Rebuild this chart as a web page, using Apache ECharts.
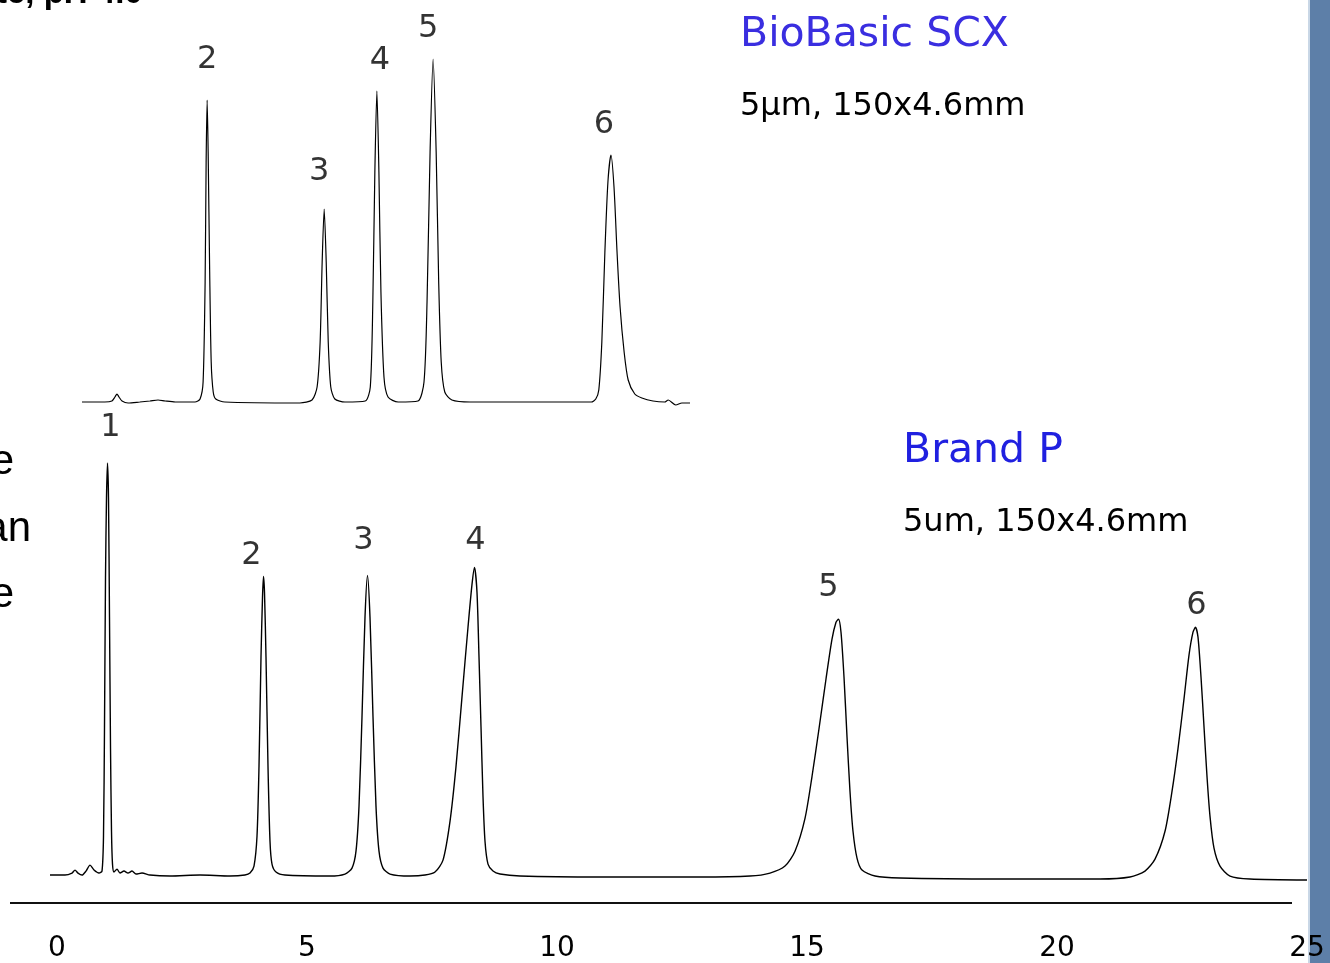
<!DOCTYPE html>
<html>
<head>
<meta charset="utf-8">
<title>BioBasic SCX vs Brand P</title>
<script src="https://cdn.jsdelivr.net/npm/echarts@6/dist/echarts.min.js"></script>
<style>
  html, body { margin: 0; padding: 0; background: #fff; }
  #chart { width: 1330px; height: 963px; }
</style>
</head>
<body>
<div id="chart"></div>
<script>
// time axis tick labels (min)
const timeTicks = [0, 5, 10, 15, 20, 25];

// BioBasic SCX trace (inset): [time, signal]
const scxTrace = [
  [0, 0], [0.45, 0], [0.59, 1], [0.65, 5], [0.69, 8], [0.73, 5], [0.79, 1], [0.91, -1],
  [1.14, 0], [1.34, 1], [1.5, 2], [1.64, 1], [1.84, 0], [2.23, 0], [2.33, 3], [2.39, 20],
  [2.43, 120], [2.45, 240], [2.47, 302], [2.49, 250], [2.52, 130], [2.55, 40], [2.59, 10],
  [2.64, 3], [2.82, 0], [4.3, -1], [4.54, 2], [4.64, 15], [4.7, 60], [4.74, 140], [4.78, 193],
  [4.82, 140], [4.86, 60], [4.91, 15], [4.99, 3], [5.19, 0], [5.59, 1], [5.69, 15], [5.74, 100],
  [5.78, 230], [5.82, 311], [5.86, 230], [5.9, 110], [5.96, 25], [6.04, 5], [6.24, 0], [6.63, 1],
  [6.75, 20], [6.81, 100], [6.87, 250], [6.93, 343], [6.99, 250], [7.04, 120], [7.09, 40],
  [7.16, 10], [7.3, 2], [7.66, 0], [10.05, 0], [10.14, 3], [10.2, 12], [10.26, 60], [10.32, 150],
  [10.38, 220], [10.44, 247], [10.5, 215], [10.56, 150], [10.62, 95], [10.7, 50], [10.78, 22],
  [10.91, 8], [11.05, 4], [11.27, 1], [11.5, 0], [11.57, 2], [11.72, -3], [11.84, -1], [12, -1]
];
const scxPeakNames = ['2', '3', '4', '5', '6'];
const scxPeakTimes = [2.47, 4.78, 5.82, 6.93, 10.44];
const scxPeakHeights = [302, 193, 311, 343, 247];

// Brand P trace: [time, signal]
const brandPTrace = [
  [-0.14, 1], [0.16, 1], [0.3, 3], [0.36, 6], [0.42, 3], [0.5, 1], [0.58, 5], [0.66, 11],
  [0.74, 6], [0.84, 3], [0.9, 5], [0.93, 40], [0.95, 150], [0.97, 300], [0.99, 380], [1.01, 415],
  [1.03, 380], [1.05, 260], [1.07, 130], [1.09, 45], [1.11, 12], [1.14, 4], [1.2, 7], [1.26, 3],
  [1.34, 5], [1.42, 3], [1.5, 5], [1.58, 2], [1.7, 3], [1.86, 1], [2.26, 0], [2.86, 1], [3.46, 0],
  [3.76, 1], [3.86, 3], [3.94, 10], [4.0, 40], [4.04, 110], [4.08, 220], [4.11, 280], [4.13, 301],
  [4.15, 285], [4.18, 220], [4.22, 110], [4.26, 35], [4.3, 12], [4.38, 4], [4.56, 1], [5.46, 0],
  [5.76, 2], [5.9, 8], [5.98, 25], [6.04, 70], [6.1, 160], [6.16, 260], [6.21, 302], [6.26, 260],
  [6.32, 160], [6.38, 70], [6.44, 25], [6.52, 8], [6.66, 2], [7.06, 0], [7.36, 1], [7.56, 4],
  [7.72, 16], [7.86, 55], [7.98, 110], [8.1, 180], [8.22, 250], [8.3, 293], [8.35, 310],
  [8.4, 285], [8.44, 220], [8.48, 150], [8.52, 80], [8.56, 35], [8.62, 12], [8.72, 5], [8.86, 2],
  [9.26, 0], [10.86, -1], [12.86, -1], [13.86, 0], [14.26, 3], [14.56, 10], [14.76, 25],
  [14.96, 58], [15.1, 100], [15.24, 148], [15.38, 198], [15.5, 238], [15.58, 255], [15.63, 258],
  [15.68, 245], [15.74, 200], [15.8, 140], [15.86, 85], [15.92, 45], [16.0, 18], [16.1, 6],
  [16.36, 0], [16.86, -2], [18.86, -3], [20.86, -3], [21.46, -1], [21.76, 5], [21.96, 17],
  [22.16, 45], [22.3, 85], [22.42, 128], [22.54, 178], [22.64, 222], [22.72, 245], [22.77, 250],
  [22.82, 240], [22.88, 200], [22.94, 150], [23.0, 100], [23.06, 60], [23.14, 28], [23.26, 10],
  [23.46, 0], [23.86, -3], [25, -4]
];
const brandPPeakNames = ['1', '2', '3', '4', '5', '6'];
const brandPPeakTimes = [1.01, 4.13, 6.21, 8.35, 15.63, 22.77];
const brandPPeakHeights = [415, 301, 302, 310, 258, 250];

// label nudges (px) for the peak numbers
const scxLabelOffsets = [[0, -40], [-5, -37], [3, -30], [-5, -30], [-7, -30]];
const brandPLabelOffsets = [[3, -35], [-12, -21], [-4, -35], [1, -27], [-10, -32], [1, -22]];

const FONT = 'DejaVu Sans';

function peakLabels(names, times, heights, offsets, gridIdx) {
  return {
    type: 'scatter',
    xAxisIndex: gridIdx,
    yAxisIndex: gridIdx,
    symbolSize: 0,
    silent: true,
    data: names.map((n, i) => ({
      value: [times[i], heights[i]],
      name: n,
      label: { offset: offsets[i] }
    })),
    label: {
      show: true,
      position: 'inside',
      formatter: p => p.name,
      color: '#000',
      fontFamily: FONT,
      fontSize: 32
    }
  };
}

const chart = echarts.init(document.getElementById('chart'), null, { renderer: 'canvas' });

chart.setOption({
  animation: false,
  backgroundColor: '#fff',
  grid: [
    { left: 82, width: 608, top: 59, height: 349 },
    { left: 47, width: 1260, top: 463, height: 425 }
  ],
  xAxis: [
    { gridIndex: 0, type: 'value', min: 0, max: 12, show: false },
    {
      gridIndex: 1, type: 'value', min: -0.2, max: 25,
      axisLine: { show: false }, axisTick: { show: false }, splitLine: { show: false },
      axisLabel: {
        customValues: timeTicks,
        margin: 49,
        color: '#000',
        fontFamily: FONT,
        fontSize: 28
      }
    }
  ],
  yAxis: [
    { gridIndex: 0, type: 'value', min: -6, max: 343, show: false },
    { gridIndex: 1, type: 'value', min: -10, max: 415, show: false }
  ],
  series: [
    {
      type: 'line', xAxisIndex: 0, yAxisIndex: 0, data: scxTrace,
      showSymbol: false, silent: true, smooth: 0.25,
      lineStyle: { color: '#000', width: 1.2 }
    },
    {
      type: 'line', xAxisIndex: 1, yAxisIndex: 1, data: brandPTrace,
      showSymbol: false, silent: true, smooth: 0.25,
      lineStyle: { color: '#000', width: 1.4 }
    },
    peakLabels(scxPeakNames, scxPeakTimes, scxPeakHeights, scxLabelOffsets, 0),
    peakLabels(brandPPeakNames, brandPPeakTimes, brandPPeakHeights, brandPLabelOffsets, 1)
  ],
  graphic: [
    // slide side bar
    { type: 'rect', z: -100, shape: { x: 1310, y: 0, width: 20, height: 963 }, style: { fill: '#5d7fa8' } },
    { type: 'rect', z: -100, shape: { x: 1308, y: 0, width: 2, height: 963 }, style: { fill: '#c9d7e6' } },
    // time axis rule
    { type: 'line', shape: { x1: 10, y1: 903, x2: 1292, y2: 903 }, style: { stroke: '#111', lineWidth: 2 } },
    // column titles
    { type: 'text', x: 740, y: 35, style: { text: 'BioBasic SCX', fill: '#3a2ee0', font: '41px "DejaVu Sans"', verticalAlign: 'middle' } },
    { type: 'text', x: 740, y: 107, style: { text: '5µm, 150x4.6mm', fill: '#000', font: '32px "DejaVu Sans"', verticalAlign: 'middle' } },
    { type: 'text', x: 903, y: 451, style: { text: 'Brand P', fill: '#2020e0', font: '41px "DejaVu Sans"', verticalAlign: 'middle' } },
    { type: 'text', x: 903, y: 523, style: { text: '5um, 150x4.6mm', fill: '#000', font: '32px "DejaVu Sans"', verticalAlign: 'middle' } },
    // clipped slide text at the edges
    { type: 'text', x: -4, y: -6, style: { text: 'te, pH 4.0', fill: '#000', font: 'bold 33px "Liberation Sans"', verticalAlign: 'middle' } },
    { type: 'text', x: 14, y: 462, style: { text: 'e', fill: '#000', font: '42px "Liberation Sans"', align: 'right', verticalAlign: 'middle' } },
    { type: 'text', x: 31, y: 529, style: { text: 'an', fill: '#000', font: '42px "Liberation Sans"', align: 'right', verticalAlign: 'middle' } },
    { type: 'text', x: 14, y: 595, style: { text: 'e', fill: '#000', font: '42px "Liberation Sans"', align: 'right', verticalAlign: 'middle' } }
  ]
});
</script>
</body>
</html>
